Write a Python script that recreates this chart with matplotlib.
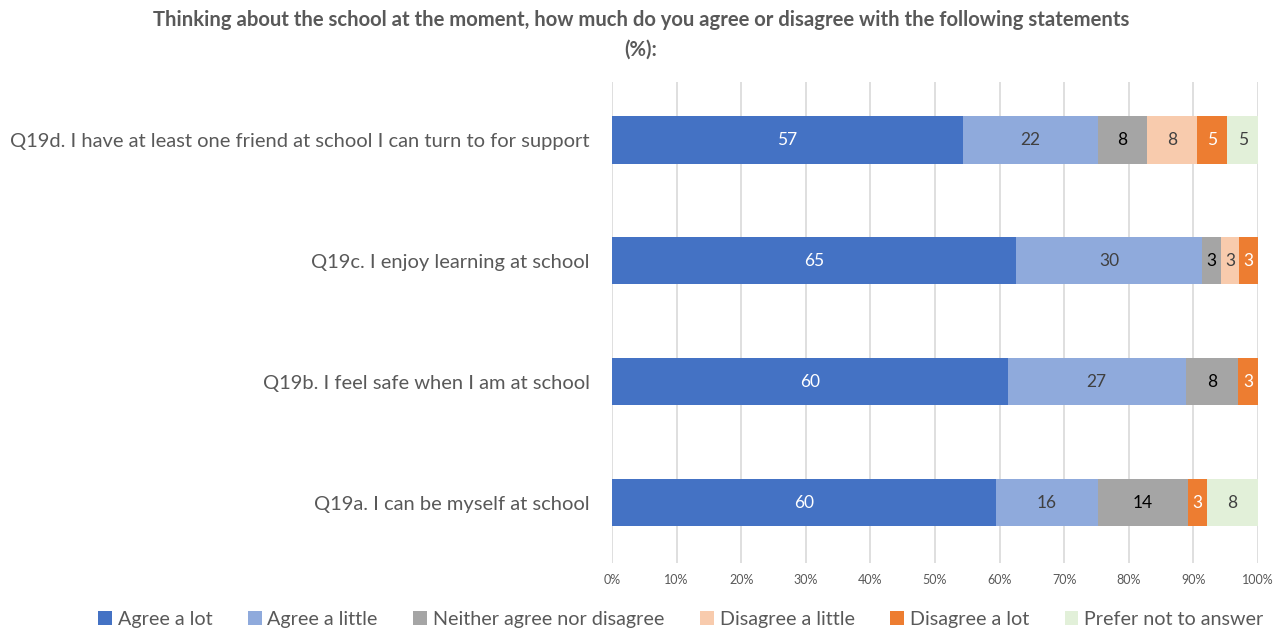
import matplotlib.pyplot as plt
import numpy as np

# statements, bottom to top
statements = [
    "Q19a. I can be myself at school",
    "Q19b. I feel safe when I am at school",
    "Q19c. I enjoy learning at school",
    "Q19d. I have at least one friend at school I can turn to for support",
]
responses = [
    "Agree a lot",
    "Agree a little",
    "Neither agree nor disagree",
    "Disagree a little",
    "Disagree a lot",
    "Prefer not to answer",
]
agree_lot = [60, 60, 65, 57]
agree_little = [16, 27, 30, 22]
neither = [14, 8, 3, 8]
disagree_little = [0, 0, 3, 8]
disagree_lot = [3, 3, 3, 5]
prefer_not = [8, 0, 0, 5]

colors = ["#4472C4", "#8FAADC", "#A5A5A5", "#F8CBAD", "#ED7D31", "#E2F0D9"]
label_colors = ["white", "#404040", "black", "#404040", "white", "#404040"]

FONT = ["Lato", "DejaVu Sans"]
GREY = "#595959"

series = np.array([agree_lot, agree_little, neither,
                   disagree_little, disagree_lot, prefer_not], dtype=float)
# bars are shown as shares of each row total
shares = series / series.sum(axis=0) * 100

fig = plt.figure(figsize=(12.82, 6.31), dpi=100)
ax = fig.add_axes([0.4774, 0.1078, 0.5039, 0.7622])

y = np.arange(len(statements))
left = np.zeros(len(statements))
for i, name in enumerate(responses):
    bars = ax.barh(y, shares[i], left=left, height=0.39, color=colors[i],
                   label=name, zorder=3)
    for j, b in enumerate(bars):
        v = series[i, j]
        if v > 0:
            ax.text(left[j] + shares[i, j] / 2, y[j], f"{v:.0f}",
                    ha="center", va="center", fontsize=12.5,
                    color=label_colors[i], family=FONT, zorder=4)
    left += shares[i]

ax.set_xlim(0, 100)
ax.set_ylim(-0.5, 3.48)
ax.set_xticks(np.arange(0, 101, 10))
ax.set_xticklabels([f"{t}%" for t in range(0, 101, 10)], family=FONT,
                   fontsize=9, color=GREY)
ax.set_yticks(y)
ax.set_yticklabels(statements, family=FONT, fontsize=14.5, color=GREY)
ax.tick_params(axis="both", length=0)
ax.tick_params(axis="x", pad=8)
ax.tick_params(axis="y", pad=16)
ax.grid(axis="x", color="#D9D9D9", linewidth=1.2, zorder=0)
for s in ax.spines.values():
    s.set_visible(False)

fig.text(0.5, 0.984, "Thinking about the school at the moment, how much do you agree or disagree with the following statements\n(%):",
         ha="center", va="top", fontsize=14.6, fontweight="bold", color=GREY,
         family=FONT, linespacing=1.62)

fig.legend(loc="center", bbox_to_anchor=(0.531, 0.018), ncol=6, frameon=False,
           prop={"family": FONT, "size": 14.2}, handlelength=0.7,
           handleheight=0.7, handletextpad=0.3, columnspacing=1.8,
           labelcolor=GREY)

fig.savefig("out.png", dpi=100)
